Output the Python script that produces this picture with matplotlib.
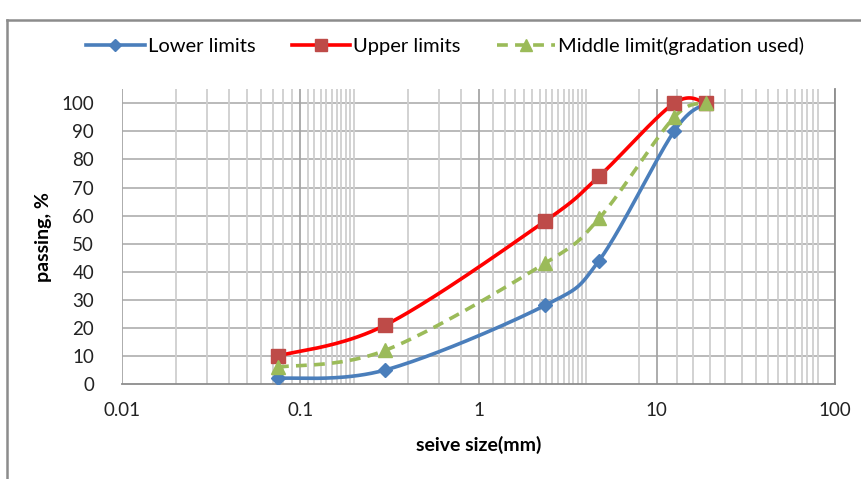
import numpy as np
import matplotlib.pyplot as plt
from matplotlib.lines import Line2D

plt.rcParams['font.family'] = ['Lato', 'DejaVu Sans']

sieve = [0.075, 0.3, 2.36, 4.75, 12.5, 19]
lower = [2, 5, 28, 44, 90, 100]
upper = [10, 21, 58, 74, 100, 100]
middle = [6, 12, 43, 59, 95, 100]

x_ticks = [0.01, 0.1, 1, 10, 100]
x_ticklabels = ['0.01', '0.1', '1', '10', '100']
y_ticks = list(range(0, 101, 10))

# odd excel minor grid
minor_grid = ([0.02, 0.03, 0.04, 0.05, 0.06, 0.07, 0.08, 0.09]
              + [0.11, 0.12, 0.13, 0.14, 0.15, 0.16, 0.17, 0.18, 0.19, 0.2, 0.4, 0.6, 0.8]
              + [1.2, 1.4, 1.6, 1.8, 2.0, 2.2, 2.4, 2.6, 2.8, 3.0, 3.2, 3.4, 3.6, 3.8, 4.0, 8]
              + [13, 16, 20, 24, 30, 36, 42, 48, 54, 60, 65, 70, 75, 80])

fig = plt.figure(figsize=(8.61, 4.79), dpi=100)
ax = fig.add_axes([0.1417, 0.1983, 0.9698 - 0.1417, 0.8136 - 0.1983])
ax.set_xscale('log')
ax.set_xlim(0.01, 100)
ax.set_ylim(0, 105)
ax.set_xticks(x_ticks)
ax.set_xticklabels(x_ticklabels)
ax.set_xticks(minor_grid, minor=True)
ax.set_xticklabels([], minor=True)
ax.set_yticks(y_ticks)
ax.tick_params(axis='both', which='both', length=0, labelsize=13.5, colors='#222222')
ax.tick_params(axis='x', pad=13)
ax.tick_params(axis='y', pad=20)

ax.grid(True, axis='x', which='major', color='#a6a6a6', lw=1.3)
ax.grid(True, axis='x', which='minor', color='#cfcfcf', lw=1.3)
for yv in y_ticks[1:]:
    ax.axhline(yv, color='#b4b4b4', lw=1.3, zorder=0.5)
ax.set_axisbelow(True)
for s in ['top', 'left']:
    ax.spines[s].set_visible(False)
ax.spines['bottom'].set_color('#8c8c8c')
ax.spines['right'].set_color('#8c8c8c')
ax.spines['bottom'].set_linewidth(1.3)
ax.spines['right'].set_linewidth(1.3)


def smooth(xs, ys, n=40):
    # excel style bezier smoothing in display space
    pts = ax.transData.transform(np.column_stack([xs, ys]))
    p = np.vstack([pts[0], pts, pts[-1]])
    out = []
    for i in range(1, len(p) - 2):
        p0, p3 = p[i], p[i + 1]
        c1 = p0 + (p[i + 1] - p[i - 1]) / 6
        c2 = p3 - (p[i + 2] - p[i]) / 6
        t = np.linspace(0, 1, n)[:, None]
        seg = ((1 - t) ** 3) * p0 + 3 * ((1 - t) ** 2) * t * c1 + 3 * (1 - t) * t ** 2 * c2 + t ** 3 * p3
        out.append(seg)
    out = np.vstack(out)
    d = ax.transData.inverted().transform(out)
    return d[:, 0], d[:, 1]


blue = '#4a7ebb'
red = '#ff0000'
red_m = '#be4b48'
green = '#9bbb59'

sx, sy = smooth(sieve, lower)
ax.plot(sx, sy, color=blue, lw=2.6, zorder=3, solid_capstyle='round')
ax.plot(sieve, lower, ls='none', marker='D', ms=7, color=blue, zorder=4)

sx, sy = smooth(sieve, upper)
ax.plot(sx, sy, color=red, lw=2.6, zorder=3)
ax.plot(sieve, upper, ls='none', marker='s', ms=10, color=red_m, zorder=4)

sx, sy = smooth(sieve, middle)
ax.plot(sx, sy, color=green, lw=2.6, ls=(0, (3, 2)), zorder=3)
ax.plot(sieve, middle, ls='none', marker='^', ms=10, color=green, zorder=4)

ax.set_xlabel('seive size(mm)', fontsize=14, fontweight='bold', labelpad=12)
ax.set_ylabel('passing, %', fontsize=14, fontweight='bold', labelpad=7)

handles = [
    Line2D([], [], color=blue, lw=2.6, marker='D', ms=6),
    Line2D([], [], color=red, lw=2.6, marker='s', ms=9, mfc=red_m, mec=red_m),
    Line2D([], [], color=green, lw=2.6, ls=(0, (3, 2)), marker='^', ms=9),
]
fig.legend(handles, ['Lower limits', 'Upper limits', 'Middle limit(gradation used)'],
           loc='center', bbox_to_anchor=(0.517, 0.904), ncol=3, frameon=False,
           fontsize=14.5, handlelength=2.9, handletextpad=0.15, columnspacing=1.8)

# chart area border
fig.add_artist(Line2D([7 / 861, 1], [1 - 20 / 479] * 2, transform=fig.transFigure, color='#8c8c8c', lw=1.8))
fig.add_artist(Line2D([7 / 861] * 2, [0, 1 - 20 / 479], transform=fig.transFigure, color='#8c8c8c', lw=1.8))

fig.savefig('out.png', dpi=100)
